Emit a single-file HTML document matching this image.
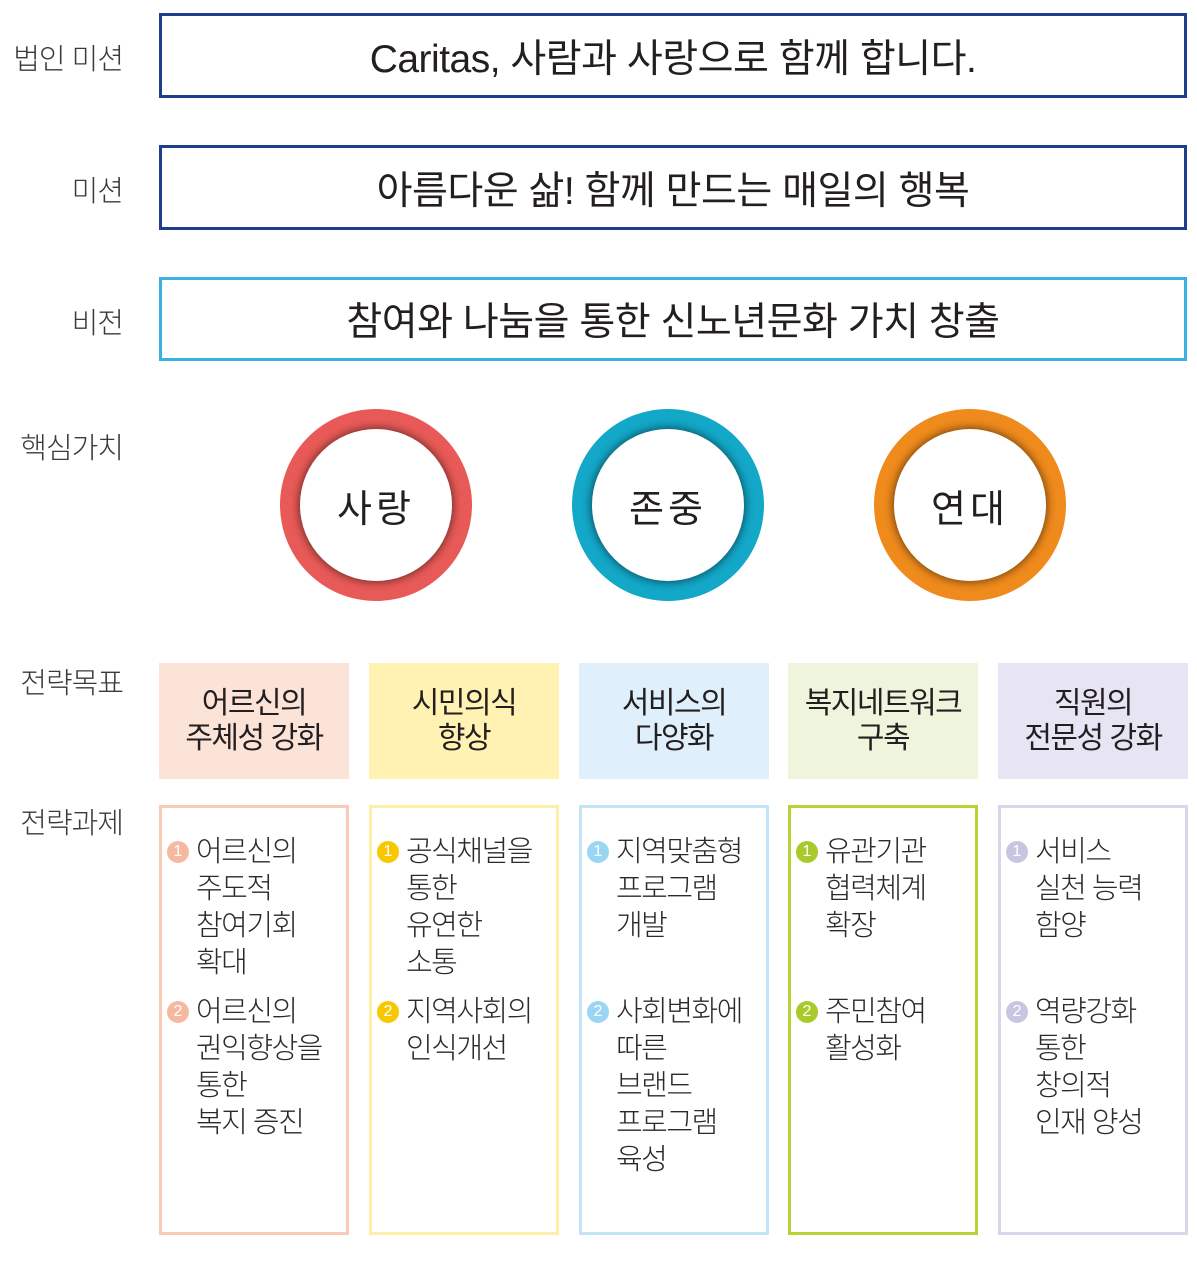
<!DOCTYPE html>
<html><head><meta charset="utf-8"><style>
body{margin:0;width:1197px;height:1262px;background:#fff;position:relative;font-family:"Liberation Sans","Noto Sans CJK KR",sans-serif;color:#231f20;overflow:hidden}
.lab{position:absolute;right:1074px;font-size:29px;color:#3a3a3a;font-weight:300;white-space:nowrap;letter-spacing:-1px}
.top{position:absolute;left:159px;width:1022px;border:3px solid #1f3e8c;display:flex;align-items:center;justify-content:center;font-size:39px;color:#231f20;letter-spacing:-0.5px}
.circ{position:absolute;width:192px;height:192px;border-radius:50%;top:409px}
.circ .in{position:absolute;left:20px;top:20px;width:152px;height:152px;border-radius:50%;background:#fff;box-shadow:0 0 8px 2px rgba(0,0,0,.45);display:flex;align-items:center;justify-content:center;font-size:38px;letter-spacing:4px}
.goal{position:absolute;top:663px;width:190px;height:116px;display:flex;align-items:center;justify-content:center;text-align:center;font-size:30px;line-height:35px;letter-spacing:-1.5px}
.task{position:absolute;top:805px;width:190px;height:430px;box-sizing:border-box;background:#fff}
.it{position:absolute;left:34px;font-size:29px;line-height:37px;letter-spacing:-1.5px;color:#2a2a2a;font-weight:300}
.num{position:absolute;left:-29px;top:7px;width:22px;height:22px;border-radius:50%;color:#fff;font-size:16px;line-height:22px;text-align:center;letter-spacing:0}
</style></head><body>
<div class="lab" style="top:36px">법인 미션</div>
<div class="lab" style="top:168px">미션</div>
<div class="lab" style="top:300px">비전</div>
<div class="lab" style="top:425px">핵심가치</div>
<div class="lab" style="top:660px">전략목표</div>
<div class="lab" style="top:800px">전략과제</div>

<div class="top" style="top:13px;height:79px">Caritas, 사람과 사랑으로 함께 합니다.</div>
<div class="top" style="top:145px;height:79px">아름다운 삶! 함께 만드는 매일의 행복</div>
<div class="top" style="top:277px;height:78px;border-color:#3bb1e1">참여와 나눔을 통한 신노년문화 가치 창출</div>

<div class="circ" style="left:280px;background:#e85a57"><div class="in">사랑</div></div>
<div class="circ" style="left:572px;background:#13a7c8"><div class="in">존중</div></div>
<div class="circ" style="left:874px;background:#ef8a1c"><div class="in">연대</div></div>

<div class="goal" style="left:159px;background:#fce3d8">어르신의<br>주체성 강화</div>
<div class="goal" style="left:369px;background:#fff2b2">시민의식<br>향상</div>
<div class="goal" style="left:579px;background:#dff0fc">서비스의<br>다양화</div>
<div class="goal" style="left:788px;background:#eff5dd">복지네트워크<br>구축</div>
<div class="goal" style="left:998px;background:#e7e5f3">직원의<br>전문성 강화</div>

<div class="task" style="left:159px;border:3px solid #f7cbb8">
<div class="it" style="top:26px"><span class="num" style="background:#f5b9a0">1</span>어르신의<br>주도적<br>참여기회<br>확대</div>
<div class="it" style="top:186px"><span class="num" style="background:#f5b9a0">2</span>어르신의<br>권익향상을<br>통한<br>복지 증진</div></div>
<div class="task" style="left:369px;border:3px solid #fdefa8">
<div class="it" style="top:26px"><span class="num" style="background:#f7c800">1</span>공식채널을<br>통한<br>유연한<br>소통</div>
<div class="it" style="top:186px"><span class="num" style="background:#f7c800">2</span>지역사회의<br>인식개선</div></div>
<div class="task" style="left:579px;border:3px solid #c2e4f6">
<div class="it" style="top:26px"><span class="num" style="background:#9ad6f3">1</span>지역맞춤형<br>프로그램<br>개발</div>
<div class="it" style="top:186px"><span class="num" style="background:#9ad6f3">2</span>사회변화에<br>따른<br>브랜드<br>프로그램<br>육성</div></div>
<div class="task" style="left:788px;border:3px solid #b6d334">
<div class="it" style="top:26px"><span class="num" style="background:#a9ca2a">1</span>유관기관<br>협력체계<br>확장</div>
<div class="it" style="top:186px"><span class="num" style="background:#a9ca2a">2</span>주민참여<br>활성화</div></div>
<div class="task" style="left:998px;border:3px solid #d8d6ea">
<div class="it" style="top:26px"><span class="num" style="background:#c8c5e3">1</span>서비스<br>실천 능력<br>함양</div>
<div class="it" style="top:186px"><span class="num" style="background:#c8c5e3">2</span>역량강화<br>통한<br>창의적<br>인재 양성</div></div>
</body></html>
